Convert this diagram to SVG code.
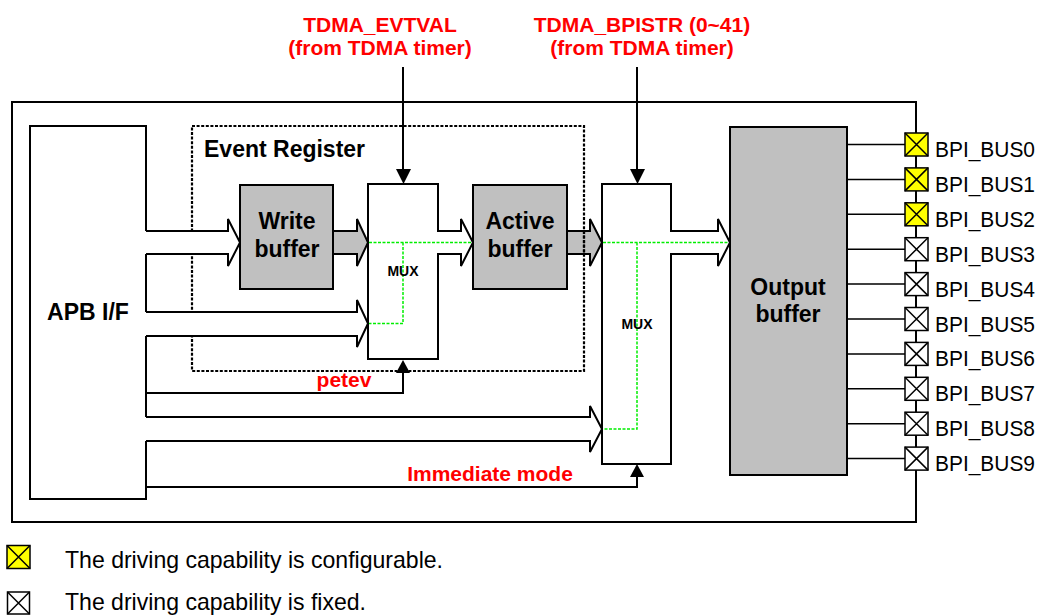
<svg xmlns="http://www.w3.org/2000/svg" width="1039" height="615" viewBox="0 0 1039 615">
<style>
.ln{fill:none;stroke:#000;stroke-width:2}
.thin{fill:none;stroke:#000;stroke-width:1.5}
.wf{fill:#fff;stroke:#000;stroke-width:2;stroke-linejoin:miter}
.gf{fill:#c0c0c0;stroke:#000;stroke-width:2}
.dot{fill:none;stroke:#000;stroke-width:2.2;stroke-dasharray:3,1.6}
.grn{fill:none;stroke:#00ee00;stroke-width:1.5;stroke-dasharray:3,1.5}
.b{font-family:"Liberation Sans",Arial,sans-serif;font-weight:bold;fill:#000}
.r{font-family:"Liberation Sans",Arial,sans-serif;font-weight:bold;fill:#ff0000;font-size:21px}
.n{font-family:"Liberation Sans",Arial,sans-serif;fill:#000}
.pad{stroke:#000;stroke-width:1.5}
.y{fill:#ffff00}
.w{fill:#fff}
</style>
<defs>
<g id="padx">
<path d="M-11.5,-11.5 L11.5,11.5 M11.5,-11.5 L-11.5,11.5" stroke="#000" stroke-width="1.5" fill="none"/>
</g>
</defs>
<rect width="1039" height="615" fill="#fff"/>

<!-- outer frame -->
<rect id="frame" x="12" y="102" width="904" height="420" class="ln"/>

<!-- APB I/F -->
<g id="apb">
<rect x="30" y="126" width="116" height="373" fill="#fff"/>
<path class="ln" d="M146,231 V126 H30 V499 H146 V441 M146,417 V336 M146,312 V254"/>
<text class="b" x="88" y="320" font-size="23" text-anchor="middle">APB I/F</text>
</g>

<!-- connectors -->
<g id="connectors">
<path class="wf" d="M146,231 H228 V219 L240,242.5 L228,266 V254 H146"/>
<path class="wf" d="M146,312 H357 V300 L368,323.5 L357,347 V336 H146"/>
<path class="wf" d="M146,417 H590 V406 L602,429 L590,452 V441 H146"/>
<path class="ln" d="M146,393 H403 V372"/>
<polygon points="396,373 410,373 403,360" fill="#000"/>
<path class="ln" d="M146,487 H637 V476"/>
<polygon points="630,477 644,477 637,464" fill="#000"/>
<path class="ln" d="M403,67 V170"/>
<polygon points="396,169 411,169 403.5,184" fill="#000"/>
<path class="ln" d="M637,67 V170"/>
<polygon points="630,169 645,169 637.5,184" fill="#000"/>
<path class="gf" d="M333,231 H357 V219 L368,242.5 L357,266 V254 H333"/>
<path class="gf" d="M567,231 H590 V219 L602,242.5 L590,266 V254 H567"/>
</g>

<!-- event register dotted box -->
<g id="event-register">
<rect x="192" y="126" width="392" height="245" class="dot"/>
<text class="b" x="204" y="157" font-size="23">Event Register</text>
</g>
<!-- re-cover the dotted box where APB arrows pass -->
<rect x="189" y="232" width="6" height="21" fill="#fff"/>
<rect x="189" y="313" width="6" height="22" fill="#fff"/>

<g id="write-buffer">
<rect x="240" y="185" width="93" height="104" class="gf"/>
<text class="b" x="287" y="229" font-size="23" text-anchor="middle">Write</text>
<text class="b" x="287" y="257" font-size="23" text-anchor="middle">buffer</text>
</g>

<g id="mux1">
<path class="wf" d="M368,184 H438 V231 H461 V219 L473,242.5 L461,266 V254 H438 V359 H368 Z"/>
<path class="grn" d="M369,242.5 H472 M403,242.5 V323.5 H369"/>
<text class="b" x="403" y="276" font-size="14" text-anchor="middle">MUX</text>
</g>

<g id="active-buffer">
<rect x="473" y="185" width="94" height="104" class="gf"/>
<text class="b" x="520" y="229" font-size="23" text-anchor="middle">Active</text>
<text class="b" x="520" y="257" font-size="23" text-anchor="middle">buffer</text>
</g>
<path d="M584,231 V254" class="dot"/>

<g id="mux2">
<path class="wf" d="M602,184 H671 V231 H718 V219 L730,242.5 L718,266 V254 H671 V464 H602 Z"/>
<path class="grn" d="M603,242.5 H729 M637,242.5 V429 H603"/>
<text class="b" x="637" y="329" font-size="14" text-anchor="middle">MUX</text>
</g>

<g id="output-buffer">
<rect x="730" y="127" width="117" height="348" class="gf"/>
<text class="b" x="788" y="295" font-size="23" text-anchor="middle">Output</text>
<text class="b" x="788" y="322" font-size="23" text-anchor="middle">buffer</text>
</g>

<!-- labels -->
<g id="labels">
<text class="r" x="380" y="32" text-anchor="middle">TDMA_EVTVAL</text>
<text class="r" x="380" y="55" text-anchor="middle">(from TDMA timer)</text>
<text class="r" x="642" y="32" text-anchor="middle">TDMA_BPISTR (0~41)</text>
<text class="r" x="642" y="55" text-anchor="middle">(from TDMA timer)</text>
<text class="r" x="344" y="387" text-anchor="middle">petev</text>
<text class="r" x="490" y="481" text-anchor="middle">Immediate mode</text>
</g>

<!-- pads -->
<g id="pads">
<path class="thin" d="M847,144.5 H905 M847,179.4 H905 M847,214.3 H905 M847,249.2 H905 M847,284.1 H905 M847,319 H905 M847,353.9 H905 M847,388.8 H905 M847,423.7 H905 M847,458.6 H905"/>
<g id="pad0" transform="translate(916.5,144.5)"><rect x="-11.5" y="-11.5" width="23" height="23" class="pad y"/><use href="#padx"/></g>
<g id="pad1" transform="translate(916.5,179.4)"><rect x="-11.5" y="-11.5" width="23" height="23" class="pad y"/><use href="#padx"/></g>
<g id="pad2" transform="translate(916.5,214.3)"><rect x="-11.5" y="-11.5" width="23" height="23" class="pad y"/><use href="#padx"/></g>
<g id="pad3" transform="translate(916.5,249.2)"><rect x="-11.5" y="-11.5" width="23" height="23" class="pad w"/><use href="#padx"/></g>
<g id="pad4" transform="translate(916.5,284.1)"><rect x="-11.5" y="-11.5" width="23" height="23" class="pad w"/><use href="#padx"/></g>
<g id="pad5" transform="translate(916.5,319)"><rect x="-11.5" y="-11.5" width="23" height="23" class="pad w"/><use href="#padx"/></g>
<g id="pad6" transform="translate(916.5,353.9)"><rect x="-11.5" y="-11.5" width="23" height="23" class="pad w"/><use href="#padx"/></g>
<g id="pad7" transform="translate(916.5,388.8)"><rect x="-11.5" y="-11.5" width="23" height="23" class="pad w"/><use href="#padx"/></g>
<g id="pad8" transform="translate(916.5,423.7)"><rect x="-11.5" y="-11.5" width="23" height="23" class="pad w"/><use href="#padx"/></g>
<g id="pad9" transform="translate(916.5,458.6)"><rect x="-11.5" y="-11.5" width="23" height="23" class="pad w"/><use href="#padx"/></g>
<g class="n" font-size="22">
<text x="935" y="157" textLength="100" lengthAdjust="spacingAndGlyphs">BPI_BUS0</text>
<text x="935" y="191.9" textLength="100" lengthAdjust="spacingAndGlyphs">BPI_BUS1</text>
<text x="935" y="226.8" textLength="100" lengthAdjust="spacingAndGlyphs">BPI_BUS2</text>
<text x="935" y="261.7" textLength="100" lengthAdjust="spacingAndGlyphs">BPI_BUS3</text>
<text x="935" y="296.6" textLength="100" lengthAdjust="spacingAndGlyphs">BPI_BUS4</text>
<text x="935" y="331.5" textLength="100" lengthAdjust="spacingAndGlyphs">BPI_BUS5</text>
<text x="935" y="366.4" textLength="100" lengthAdjust="spacingAndGlyphs">BPI_BUS6</text>
<text x="935" y="401.3" textLength="100" lengthAdjust="spacingAndGlyphs">BPI_BUS7</text>
<text x="935" y="436.2" textLength="100" lengthAdjust="spacingAndGlyphs">BPI_BUS8</text>
<text x="935" y="471.1" textLength="100" lengthAdjust="spacingAndGlyphs">BPI_BUS9</text>
</g>
</g>

<!-- legend -->
<g id="legend">
<g transform="translate(18.5,557)"><rect x="-11.5" y="-11.5" width="23" height="23" class="pad y"/><use href="#padx"/></g>
<g transform="translate(18.5,603)"><rect x="-11" y="-11" width="22" height="22" class="pad w"/><path d="M-11,-11 L11,11 M11,-11 L-11,11" stroke="#000" stroke-width="1.5"/></g>
<text class="n" x="65" y="568" font-size="24" textLength="378" lengthAdjust="spacingAndGlyphs">The driving capability is configurable.</text>
<text class="n" x="65" y="610" font-size="24" textLength="301" lengthAdjust="spacingAndGlyphs">The driving capability is fixed.</text>
</g>
</svg>
